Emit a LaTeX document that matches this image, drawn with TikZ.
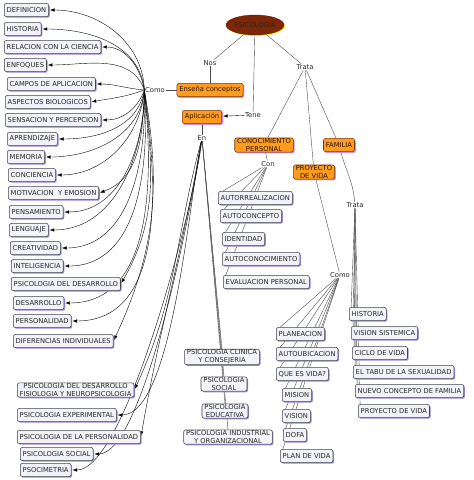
\documentclass[tikz,border=0pt]{standalone}
\usepackage{fontspec}
\setmainfont{DejaVu Sans}
\usetikzlibrary{shapes.geometric, shadows, arrows.meta}
\definecolor{boxline}{HTML}{45454D}
\definecolor{boxfill}{HTML}{F1F3F9}
\definecolor{boxshade}{HTML}{9D86D6}
\definecolor{orangefill}{HTML}{FF9C1E}
\definecolor{orangeline}{HTML}{7A3A0C}
\definecolor{orangeshade}{HTML}{E07CCF}
\definecolor{rootfill}{HTML}{7E2705}
\definecolor{rootshade}{HTML}{FFE93C}
\definecolor{wirecolor}{HTML}{4A4A4A}
\pgfdeclarelayer{back}
\pgfsetlayers{back,main}

\tikzset{
  concept/.style={draw=boxline, line width=0.8pt, rounded corners=3pt, fill=boxfill,
    text=black!85, font=\fontsize{9.6}{11}\selectfont, inner xsep=3.5pt, inner ysep=1pt,
    minimum height=6.6mm, align=center,
    general shadow={fill=boxshade, shadow xshift=1.6pt, shadow yshift=-1.6pt}},
  keyconcept/.style={concept, draw=orangeline, fill=orangefill, text=black!85!orange,
    general shadow={fill=orangeshade, shadow xshift=1.6pt, shadow yshift=-1.6pt}},
  link/.style={font=\fontsize{9.6}{11}\selectfont, text=black!85, fill=white, inner sep=1pt},
  wire/.style={draw=wirecolor, line width=0.55pt},
  arrw/.style={draw=black, line width=0.55pt, -{Latex[length=2.3mm,width=1.7mm]}, shorten >=1.5pt},
}

\begin{document}
\begin{tikzpicture}[x=0.5mm, y=-0.5mm]
\useasboundingbox (0,0) rectangle (474,480);

% Root
\node[ellipse, draw=rootfill!60!black, fill=rootfill, minimum width=27mm, minimum height=10mm,
  inner sep=0pt, font=\fontsize{9.6}{11}\selectfont, text=black!85,
  general shadow={fill=rootshade, shadow xshift=1.6pt, shadow yshift=-1.6pt}] (psico) at (255,25) {PSICOLOGIA};

% Links
\node[link] (como) at (155,90) {Como};
\node[link] (nos) at (210,63) {Nos};
\node[link] (tene) at (253,115) {Tene};
\node[link] (en) at (202,138) {En};
\node[link] (trata) at (305,67) {Trata};
\node[link] (con) at (268,164) {Con};
\node[link] (trataf) at (355,205) {Trata};
\node[link] (comop) at (340,275) {Como};

% Orange concepts
\node[keyconcept] (ensena) at (210,90) {Enseña conceptos};
\node[keyconcept] (aplic) at (202,117) {Aplicación};
\node[keyconcept] (conoc) at (264,145) {CONOCIMIENTO\\PERSONAL};
\node[keyconcept] (proy) at (314,172) {PROYECTO\\DE VIDA};
\node[keyconcept] (familia) at (339,145) {FAMILIA};

% Left column
\node[concept, anchor=west] (defin) at (4,10) {DEFINICION};
\node[concept, anchor=west] (hist) at (4,29) {HISTORIA};
\node[concept, anchor=west] (relac) at (4,47) {RELACION CON LA CIENCIA};
\node[concept, anchor=west] (enfoq) at (4,65) {ENFOQUES};
\node[concept, anchor=west] (campos) at (7,84) {CAMPOS DE APLICACION};
\node[concept, anchor=west] (aspect) at (5,102) {ASPECTOS BIOLOGICOS};
\node[concept, anchor=west] (sensac) at (5,120) {SENSACION Y PERCEPCION};
\node[concept, anchor=west] (aprend) at (7,139) {APRENDIZAJE};
\node[concept, anchor=west] (memor) at (7,157) {MEMORIA};
\node[concept, anchor=west] (concien) at (8,175) {CONCIENCIA};
\node[concept, anchor=west] (motiv) at (8,193) {MOTIVACION \ Y EMOSION};
\node[concept, anchor=west] (pensam) at (9,212) {PENSAMIENTO};
\node[concept, anchor=west] (lengu) at (9,230) {LENGUAJE};
\node[concept, anchor=west] (creat) at (10,248) {CREATIVIDAD};
\node[concept, anchor=west] (intel) at (11,266) {INTELIGENCIA};
\node[concept, anchor=west] (psdes) at (11,284) {PSICOLOGIA DEL DESARROLLO};
\node[concept, anchor=west] (desarr) at (13,303) {DESARROLLO};
\node[concept, anchor=west] (person) at (13,321) {PERSONALIDAD};
\node[concept, anchor=west] (difer) at (13,341) {DIFERENCIAS INDIVIDUALES};

% Bottom left
\node[concept, anchor=west] (fisio) at (17,390) {PSICOLOGIA DEL DESARROLLO\\FISIOLOGIA Y NEUROPSICOLOGIA};
\node[concept, anchor=west] (exper) at (17,415) {PSICOLOGIA EXPERIMENTAL};
\node[concept, anchor=west] (pspers) at (17,437) {PSICOLOGIA DE LA PERSONALIDAD};
\node[concept, anchor=west] (pssoc) at (20,454) {PSICOLOGIA SOCIAL};
\node[concept, anchor=west] (psocim) at (20,470) {PSOCIMETRIA};

% Middle column
\node[concept] (clinica) at (222,357) {PSICOLOGIA CLINICA\\Y CONSEJERIA};
\node[concept] (social) at (224,384) {PSICOLOGIA\\SOCIAL};
\node[concept] (educ) at (225,411) {PSICOLOGIA\\EDUCATIVA};
\node[concept] (indus) at (228,437) {PSICOLOGIA INDUSTRIAL\\Y ORGANIZACIONAL};

% Conocimiento personal
\node[concept, anchor=west] (autorr) at (218,198) {AUTORREALIZACION};
\node[concept, anchor=west] (autoc) at (220,216) {AUTOCONCEPTO};
\node[concept, anchor=west] (ident) at (222,239) {IDENTIDAD};
\node[concept, anchor=west] (autocon) at (222,259) {AUTOCONOCIMIENTO};
\node[concept, anchor=west] (evalu) at (223,282) {EVALUACION PERSONAL};

% Proyecto de vida
\node[concept, anchor=west] (planea) at (276,334) {PLANEACION};
\node[concept, anchor=west] (autoub) at (276,354) {AUTOUBICACION};
\node[concept, anchor=west] (quees) at (276,374) {QUE ES VIDA?};
\node[concept, anchor=west] (mision) at (282,395) {MISION};
\node[concept, anchor=west] (vision) at (282,416) {VISION};
\node[concept, anchor=west] (dofa) at (283,435) {DOFA};
\node[concept, anchor=west] (plan) at (280,456) {PLAN DE VIDA};

% Familia
\node[concept, anchor=west] (histf) at (349,314) {HISTORIA};
\node[concept, anchor=west] (sistem) at (351,333) {VISION SISTEMICA};
\node[concept, anchor=west] (ciclo) at (352,353) {CICLO DE VIDA};
\node[concept, anchor=west] (tabu) at (353,372) {EL TABU DE LA SEXUALIDAD};
\node[concept, anchor=west] (nuevo) at (355,391) {NUEVO CONCEPTO DE FAMILIA};
\node[concept, anchor=west] (proyf) at (358,411) {PROYECTO DE VIDA};

\begin{pgfonlayer}{back}
% top links
\draw[wire] (psico) -- (nos);
\draw[wire] (nos) -- (ensena);
\draw[wire] (ensena) -- (como);
\draw[wire] (psico) -- (tene);
\draw[arrw] (tene) -- (aplic);
\draw[wire] (psico) -- (trata);
\draw[wire] (aplic) -- (en);
\draw[wire] (trata) -- (conoc);
\draw[wire] (trata) -- (proy);
\draw[wire] (trata) -- (familia);
\draw[wire] (conoc) -- (con);
\draw[wire] (proy) -- (comop);
\draw[wire] (familia) to[out=-75, in=95] (trataf);

% Como -> left column
\draw[arrw] (como.west) to[out=92, in=0] (defin.east);
\draw[arrw] (como.west) to[out=96, in=0] (hist.east);
\draw[arrw] (como.west) to[out=100, in=0] (relac.east);
\draw[arrw] (como.west) to[out=110, in=0] (enfoq.east);
\draw[arrw] (como.west) to[out=175, in=0] (campos.east);
\draw[arrw] (como.west) to[out=200, in=10] (aspect.east);
\draw[arrw] (como.west) to[out=-110, in=0] (sensac.east);
\draw[arrw] (como.west) to[out=-100, in=0] (aprend.east);
\draw[arrw] (como.west) to[out=-95, in=0] (memor.east);
\draw[arrw] (como.west) to[out=-95, in=0] (concien.east);
\draw[arrw] (como.west) to[out=-92, in=20] (motiv.east);
\draw[arrw] (como.west) to[out=-90, in=0] (pensam.east);
\draw[arrw] (como.west) to[out=-90, in=0] (lengu.east);
\draw[arrw] (como.west) to[out=-88, in=0] (creat.east);
\draw[arrw] (como.west) to[out=-86, in=0] (intel.east);
\draw[arrw] (como.west) to[out=-84, in=60] (psdes.east);
\draw[arrw] (como.west) to[out=-84, in=0] (desarr.east);
\draw[arrw] (como.west) to[out=-82, in=0] (person.east);
\draw[arrw] (como.west) to[out=-80, in=65] (difer.east);

% En -> bottom left
\draw[arrw] (en) to[out=-105, in=65] (fisio.east);
\draw[arrw] (en) to[out=-102, in=0, looseness=0.5] (exper.east);
\draw[arrw] (en) to[out=-100, in=80] (pspers.east);
\draw[arrw] (en) to[out=-98, in=0, looseness=0.4] (pssoc.east);
\draw[arrw] (en) to[out=-96, in=0, looseness=0.4] (psocim.east);

% En -> middle column
\draw[wire] (en) -- (clinica.north);
\draw[wire] (en) -- (social.north);
\draw[wire] (en) -- (educ.north);
\draw[wire] (en) -- (indus.north);

% Con -> list
\draw[wire] (con) -- ([xshift=7pt]autorr.north west);
\draw[wire] (con) -- ([xshift=6pt]autoc.north west);
\draw[wire] (con) -- ([xshift=5pt]ident.north west);
\draw[wire] (con) -- ([xshift=5pt]autocon.north west);
\draw[wire] (con) -- ([xshift=4pt]evalu.north west);

% Como -> proyecto de vida
\draw[wire] (comop) -- ([xshift=6pt]planea.north west);
\draw[wire] (comop) -- ([xshift=6pt]autoub.north west);
\draw[wire] (comop) -- ([xshift=6pt]quees.north west);
\draw[wire] (comop) -- ([xshift=5pt]mision.north west);
\draw[wire] (comop) -- ([xshift=5pt]vision.north west);
\draw[wire] (comop) -- ([xshift=4pt]dofa.north west);
\draw[wire] (comop) -- ([xshift=4pt]plan.north west);

% Trata -> familia list
\draw[wire] (trataf) -- ([xshift=3pt]histf.north west);
\draw[wire] (trataf) -- ([xshift=3pt]sistem.north west);
\draw[wire] (trataf) -- ([xshift=3pt]ciclo.north west);
\draw[wire] (trataf) -- ([xshift=3pt]tabu.north west);
\draw[wire] (trataf) -- ([xshift=3pt]nuevo.north west);
\draw[wire] (trataf) -- ([xshift=3pt]proyf.north west);
\end{pgfonlayer}

\end{tikzpicture}
\end{document}
